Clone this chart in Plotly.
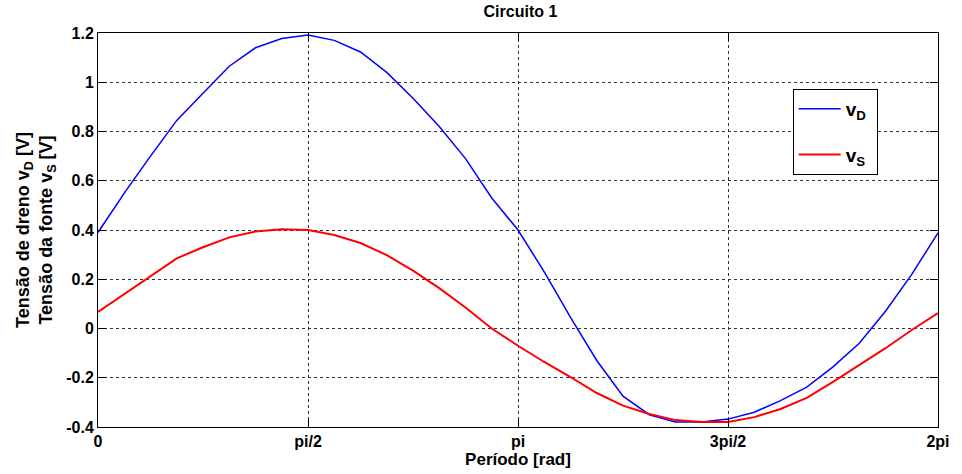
import math
import plotly.graph_objects as go

# sample index (32 steps over one period)
k = list(range(33))
x_rad = [i * 2 * math.pi / 32 for i in k]

v_D = [0.39, 0.55, 0.70, 0.845, 0.955, 1.065, 1.14, 1.178, 1.192, 1.17, 1.123,
       1.04, 0.935, 0.82, 0.69, 0.53, 0.40, 0.23, 0.045, -0.13, -0.275, -0.35,
       -0.38, -0.38, -0.368, -0.34, -0.293, -0.238, -0.156, -0.06, 0.07, 0.22, 0.388]

v_S = [0.067, 0.14, 0.215, 0.285, 0.33, 0.37, 0.394, 0.403, 0.40, 0.38, 0.347,
       0.298, 0.235, 0.164, 0.085, 0.0, -0.07, -0.136, -0.197, -0.262, -0.313,
       -0.347, -0.372, -0.38, -0.38, -0.36, -0.327, -0.282, -0.217, -0.148,
       -0.08, -0.006, 0.063]

x_tickvals = [0, math.pi / 2, math.pi, 3 * math.pi / 2, 2 * math.pi]
x_ticktext = ["0", "pi/2", "pi", "3pi/2", "2pi"]
y_tickvals = [1.2, 1.0, 0.8, 0.6, 0.4, 0.2, 0.0, -0.2, -0.4]
y_ticktext = ["1.2", "1", "0.8", "0.6", "0.4", "0.2", "0", "-0.2", "-0.4"]

FONT = "Liberation Sans, Arial, sans-serif"

fig = go.Figure()
fig.add_trace(go.Scatter(x=x_rad, y=v_D, mode="lines", name="v<sub>D</sub>&nbsp;",
                         legendgroup="a", line=dict(color="#0000FF", width=1.5)))
fig.add_trace(go.Scatter(x=x_rad, y=v_S, mode="lines", name="v<sub>S</sub>&nbsp;",
                         legendgroup="b", line=dict(color="#FF0000", width=2)))

axis_common = dict(
    showline=True, linecolor="black", linewidth=1, mirror="ticks",
    ticks="inside", ticklen=8, tickcolor="black",
    showgrid=True, gridcolor="#333333", griddash="dot", gridwidth=1,
    zeroline=False,
    tickfont=dict(family=FONT, size=16, color="black", weight="bold"),
)

fig.update_layout(
    width=962, height=474,
    margin=dict(l=98, r=19, t=33, b=47),
    paper_bgcolor="white", plot_bgcolor="white",
    title=dict(text="<b>Circuito 1</b>", x=0.541, xanchor="center", y=0.976, yanchor="middle",
               font=dict(family=FONT, size=16, color="black")),
    xaxis=dict(range=[0, 2 * math.pi], tickvals=x_tickvals, ticktext=x_ticktext,
               ticklabelstandoff=0,
               title=dict(text="<b>Período [rad]</b>", standoff=0,
                          font=dict(family=FONT, size=17, color="black")),
               **axis_common),
    yaxis=dict(range=[-0.4, 1.2], tickvals=y_tickvals, ticktext=y_ticktext,
               title=dict(text="<b>Tensão de dreno v<sub>D</sub> [V]<br>Tensão da fonte v<sub>S</sub> [V]</b>",
                          standoff=8, font=dict(family=FONT, size=18, color="black")),
               **axis_common),
    legend=dict(x=0.827, y=0.858, xanchor="left", yanchor="top",
                bordercolor="black", borderwidth=1, bgcolor="white",
                tracegroupgap=18, itemwidth=42,
                font=dict(family=FONT, size=19, color="black", weight="bold")),
    showlegend=True,
)

fig.write_html("out.html")
